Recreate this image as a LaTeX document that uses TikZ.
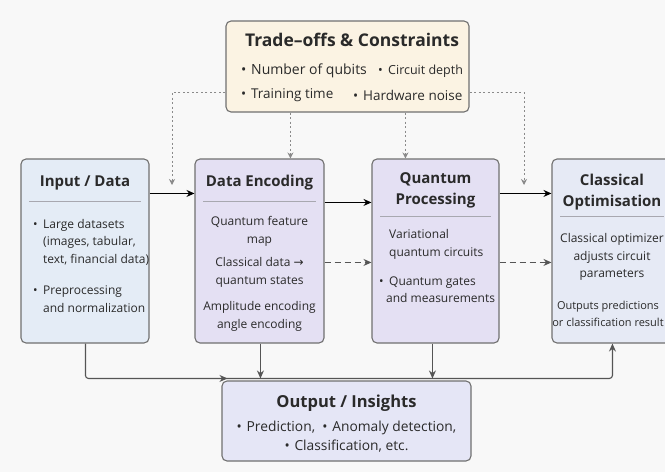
\documentclass[tikz,border=0pt]{standalone}
\usepackage{fontspec}
\setmainfont{Open Sans}
\newfontfamily\symfont{DejaVu Sans}
\usetikzlibrary{arrows.meta,calc}
\definecolor{bgc}{HTML}{F8F8F8}
\definecolor{inputc}{HTML}{E4ECF6}
\definecolor{encc}{HTML}{E4E0F3}
\definecolor{coc}{HTML}{E6EAF5}
\definecolor{outc}{HTML}{E5E6F6}
\definecolor{tradec}{HTML}{FBF3E3}
\definecolor{borderc}{HTML}{707070}
\definecolor{sepc}{HTML}{A8A8B0}
\definecolor{txtc}{HTML}{2A2A2A}
\definecolor{linec}{HTML}{555555}
\definecolor{dotc}{HTML}{8A8A8A}
\newcommand\bul{\makebox[10pt][l]{•}}
\newcommand\ind{\hspace*{10pt}}
\begin{document}
\begin{tikzpicture}[x=1pt,y=-1pt,
  box/.style={draw=borderc, line width=1.1pt, rounded corners=5pt, inner sep=0pt},
  titletext/.style={font=\fontsize{15}{21}\selectfont\bfseries, text=txtc, inner sep=0pt, align=center},
  body/.style={font=\fontsize{12}{17.5}\selectfont, text=txtc, inner sep=0pt},
  sep/.style={draw=sepc, line width=0.8pt},
  solidarrow/.style={draw=black, line width=1.1pt, -{Stealth[length=8pt,width=7pt]}},
  dasharrow/.style={draw=linec, line width=1.1pt, dash pattern=on 6pt off 4pt, -{Stealth[length=8pt,width=7pt]}},
  dotarrow/.style={draw=dotc, line width=1pt, dash pattern=on 2pt off 2.5pt, -{Stealth[length=6pt,width=6pt]}},
  botline/.style={draw=linec, line width=1.1pt, rounded corners=3pt, -{Stealth[length=8pt,width=7pt]}}
]
\clip (0,0) rectangle (665,472);
\fill[bgc] (0,0) rectangle (665,472);

% boxes
\node[box, fill=tradec, minimum width=243pt, minimum height=91pt] (trade) at (347.5,66.5) {};
\node[box, fill=inputc, minimum width=128pt, minimum height=184pt] (input) at (85,251) {};
\node[box, fill=encc, minimum width=129pt, minimum height=184pt] (enc) at (259.5,251) {};
\node[box, fill=encc, minimum width=127pt, minimum height=184pt] (qp) at (435.5,251) {};
\node[box, fill=coc, minimum width=120pt, minimum height=184pt] (co) at (612,251) {};
\node[box, fill=outc, minimum width=249pt, minimum height=80pt] (out) at (346.5,421) {};

% trade-offs text
\node[titletext, font=\fontsize{17.5}{21}\selectfont\bfseries] (tradet) at (352,40) {Trade–offs \& Constraints};
\node[body, font=\fontsize{14}{17}\selectfont, anchor=west] (tr1) at (241,71) {\bul Number of qubits};
\node[body, font=\fontsize{12.5}{17}\selectfont, anchor=west] (tr2) at (378,71) {\bul Circuit depth};
\node[body, font=\fontsize{13.5}{17}\selectfont, anchor=west] (tr3) at (241,95) {\bul Training time};
\node[body, font=\fontsize{13.5}{17}\selectfont, anchor=west] (tr4) at (353,95) {\bul Hardware noise};

% input
\node[titletext] (inputt) at (85,183) {Input / Data};
\draw[sep] ($(input.north west)+(9,43)$) -- ($(input.north east)+(-9,43)$);
\node[body, align=left, anchor=west] (in1) at (33,242) {\bul Large datasets\\\ind(images, tabular,\\\ind text, financial data)};
\node[body, align=left, anchor=west] (in2) at (33,299) {\bul Preprocessing\\\ind and normalization};

% data encoding
\node[titletext] (enct) at (259.5,183) {Data Encoding};
\draw[sep] ($(enc.north west)+(9,43)$) -- ($(enc.north east)+(-9,43)$);
\node[body, align=center] (en1) at (259.5,231.5) {Quantum feature\\map};
\node[body, align=center] (en2) at (259.5,272.5) {Classical data {\symfont →}\\quantum states};
\node[body, align=center] (en3) at (259.5,316.5) {Amplitude encoding\\angle encoding};

% quantum processing
\node[titletext] (qpt) at (435.5,190) {Quantum\\Processing};
\draw[sep] ($(qp.north west)+(9,58)$) -- ($(qp.north east)+(-9,58)$);
\node[body, align=left, anchor=west] (qp1) at (389,244.5) {Variational\\quantum circuits};
\node[body, align=left, anchor=west] (qp2) at (379,289.5) {\bul Quantum gates\\\hspace*{7pt}and measurements};

% classical optimisation
\node[titletext] (cot) at (612,192) {Classical\\Optimisation};
\draw[sep] ($(co.north west)+(9,58)$) -- ($(co.north east)+(-9,58)$);
\node[body, align=center] (co1) at (612,257) {Classical optimizer\\adjusts circuit\\parameters};
\node[body, font=\fontsize{11}{17.5}\selectfont, align=center] (co2) at (608,314) {Outputs predictions\\or classification result};

% output
\node[titletext, font=\fontsize{16.5}{21}\selectfont\bfseries] (outt) at (346.5,403) {Output / Insights};
\node[body, font=\fontsize{13.8}{19}\selectfont, align=center] (out1) at (346.5,436.5) {\bul Prediction,~ \bul Anomaly detection,\\\bul Classification, etc.};

% main connectors
\draw[solidarrow] ($(input.north east)+(0,35)$) -- ($(enc.north west)+(0,35)$);
\draw[solidarrow] ($(enc.north east)+(0,44)$) -- ($(qp.north west)+(0,44)$);
\draw[dasharrow] ($(enc.north east)+(0,104)$) -- ($(qp.north west)+(0,104)$);
\draw[solidarrow] ($(qp.north east)+(0,35)$) -- ($(co.north west)+(0,35)$);
\draw[dasharrow] ($(qp.north east)+(0,104)$) -- ($(co.north west)+(0,104)$);

% dotted constraints
\coordinate (dl) at (172,185);
\coordinate (dr) at (524,185);
\draw[dotarrow] ($(trade.north west)+(0,72)$) -| (dl);
\draw[dotarrow] ($(trade.north east)+(0,72)$) -| (dr);
\draw[dotarrow] ($(trade.south west)+(65,0)$) -- ($(enc.north west)+(96,0)$);
\draw[dotarrow] ($(trade.south west)+(180,0)$) -- ($(qp.north west)+(34,0)$);

% bottom connectors
\draw[botline] ($(input.south west)+(65,0)$) |- ($(out.north west)+(6,-2)$);
\draw[botline] ($(out.north west)+(0,-2)$) -| ($(co.south west)+(61,0)$);
\draw[solidarrow, draw=linec] ($(enc.south west)+(66,0)$) -- ($(out.north west)+(39,-2)$);
\draw[solidarrow, draw=linec] ($(qp.south west)+(61,0)$) -- ($(out.north west)+(211,-2)$);
\end{tikzpicture}
\end{document}
